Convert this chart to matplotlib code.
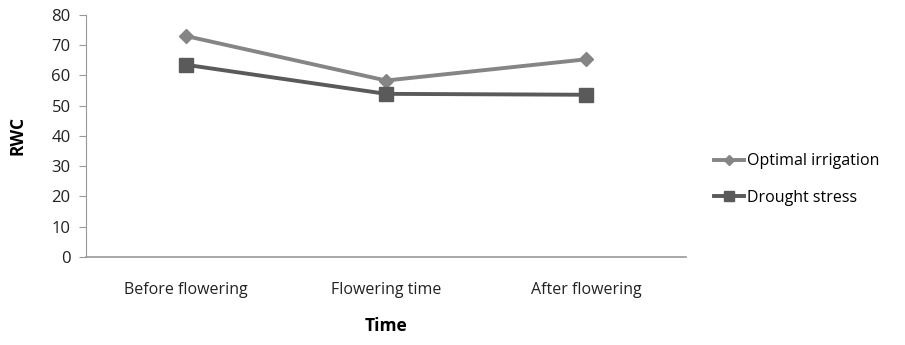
import matplotlib.pyplot as plt

categories = ['Before flowering', 'Flowering time', 'After flowering']
optimal = [73.0, 58.3, 65.3]
drought = [63.5, 53.9, 53.6]
yticks = [0, 10, 20, 30, 40, 50, 60, 70, 80]


def main():
    plt.rcParams['font.family'] = ['Open Sans', 'DejaVu Sans']
    fig = plt.figure(figsize=(9.05, 3.45), dpi=100)
    ax = fig.add_axes([0.095, 0.255, 0.663, 0.702])

    x = range(len(categories))
    ax.plot(x, optimal, color='#858585', lw=2.8, marker='D', ms=7,
            label='Optimal irrigation')
    ax.plot(x, drought, color='#5a5a5a', lw=2.8, marker='s', ms=10,
            label='Drought stress')

    ax.set_xlim(-0.5, 2.5)
    ax.set_ylim(0, 80)
    ax.set_yticks(yticks)
    ax.set_xticks(list(x))
    ax.set_xticklabels(categories)
    ax.tick_params(axis='x', length=0, pad=18, labelsize=11.5, colors='#222222')
    ax.tick_params(axis='y', length=5, labelsize=12, colors='#222222', pad=6)
    ax.tick_params(axis='y', color='#999999')
    for s in ['top', 'right']:
        ax.spines[s].set_visible(False)
    ax.spines['left'].set_color('#999999')
    ax.spines['bottom'].set_color('#999999')
    ax.spines['bottom'].set_linewidth(1.2)

    ax.set_xlabel('Time', fontsize=12.5, fontweight='bold', labelpad=14)
    ax.set_ylabel('RWC', fontsize=12.5, fontweight='bold', labelpad=18)

    ax.legend(loc='center left', bbox_to_anchor=(1.022, 0.32), frameon=False,
              fontsize=11.5, handlelength=1.9, labelspacing=1.3,
              handletextpad=0.2, markerscale=0.75)

    fig.savefig('out.png', dpi=100)


if __name__ == '__main__':
    main()
